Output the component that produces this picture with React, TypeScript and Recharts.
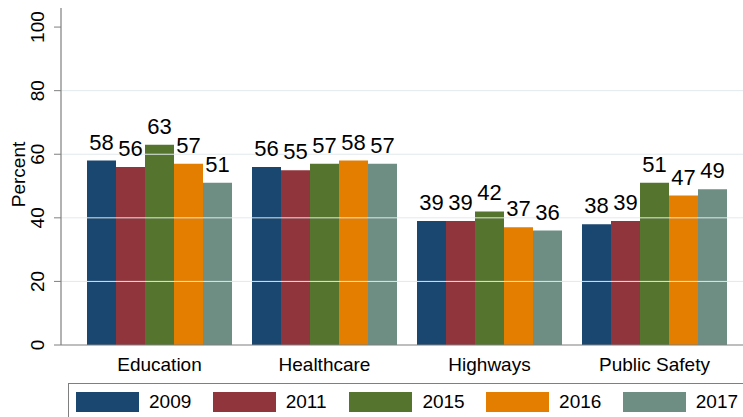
import { Bar, BarChart, LabelList, Legend, ReferenceLine, XAxis, YAxis } from 'recharts';

const categories = ['Education', 'Healthcare', 'Highways', 'Public Safety'];
const years = ['2009', '2011', '2015', '2016', '2017'];
const v2009 = [58, 56, 39, 38];
const v2011 = [56, 55, 39, 39];
const v2015 = [63, 57, 42, 51];
const v2016 = [57, 58, 37, 47];
const v2017 = [51, 57, 36, 49];
const yTicks = [0, 20, 40, 60, 80, 100];
const gridValues = [20, 40, 60, 80];

const colors = ['#1a476f', '#90353b', '#55752f', '#e37e00', '#6e8e84'];
const seriesValues = [v2009, v2011, v2015, v2016, v2017];

const data = categories.map((name, i) => {
  const row: Record<string, string | number> = { name };
  years.forEach((y, j) => {
    row[y] = seriesValues[j][i];
  });
  return row;
});

const font = '"Liberation Sans", Arial, sans-serif';
const axisColor = '#7f7f7f';

function YTick(props: any) {
  const { x, y, payload } = props;
  return (
    <text
      x={x}
      y={y}
      transform={`rotate(-90 ${x} ${y})`}
      textAnchor="middle"
      fontSize={19}
      fontFamily={font}
      fill="#000"
    >
      {payload.value}
    </text>
  );
}

function YLabel(props: any) {
  const vb = props.viewBox;
  const cy = vb.y + vb.height / 2 - 2;
  return (
    <text x={25} y={cy} transform={`rotate(-90 25 ${cy})`} textAnchor="middle" fontSize={19} fontFamily={font} fill="#000">
      Percent
    </text>
  );
}

function LegendBox() {
  return (
    <div
      style={{
        position: 'relative',
        width: 700,
        height: 40,
        border: `1px solid ${axisColor}`,
        boxSizing: 'border-box',
        fontFamily: font,
        fontSize: 19,
        color: '#000',
      }}
    >
      {years.map((y, i) => (
        <div
          key={y}
          style={{ position: 'absolute', left: 7 + i * 136.7, top: 8, display: 'flex', alignItems: 'center', height: 20 }}
        >
          <div style={{ width: 63, height: 20, background: colors[i] }} />
          <span style={{ marginLeft: 10, lineHeight: '20px' }}>{y}</span>
        </div>
      ))}
    </div>
  );
}

export default function App() {
  return (
    <div style={{ position: 'fixed', left: 0, top: 0, width: 743, height: 417, overflow: 'hidden', background: '#fff' }}>
      <BarChart
        width={743}
        height={417}
        data={data}
        margin={{ top: 8, right: 0, bottom: 32, left: 0 }}
        barCategoryGap={10}
        barGap={0}
      >
        {gridValues.map((v) => (
          <ReferenceLine key={v} y={v} stroke="#e2eaec" strokeWidth={1} />
        ))}
        <XAxis
          dataKey="name"
          height={40}
          padding={{ left: 16, right: 6 }}
          tickLine={false}
          tickSize={0}
          tickMargin={13}
          axisLine={{ stroke: axisColor, strokeWidth: 1.2 }}
          tick={{ fontSize: 19, fontFamily: font, fill: '#000' }}
          interval={0}
        />
        <YAxis
          domain={[0, 106]}
          ticks={yTicks}
          width={61}
          tickSize={7}
          tickMargin={10}
          axisLine={{ stroke: axisColor, strokeWidth: 1.2 }}
          tickLine={{ stroke: axisColor }}
          tick={<YTick />}
          label={<YLabel />}
          allowDataOverflow
        />
        <Legend
          verticalAlign="middle"
          layout="horizontal"
          content={() => <LegendBox />}
          wrapperStyle={{ position: 'absolute', left: 68, top: 383, width: 700, height: 40 }}
        />
        {years.map((y, i) => (
          <Bar key={y} dataKey={y} fill={colors[i]} isAnimationActive={false}>
            <LabelList dataKey={y} position="top" offset={11} fontSize={22} fontFamily={font} fill="#000" />
          </Bar>
        ))}
      </BarChart>
    </div>
  );
}
